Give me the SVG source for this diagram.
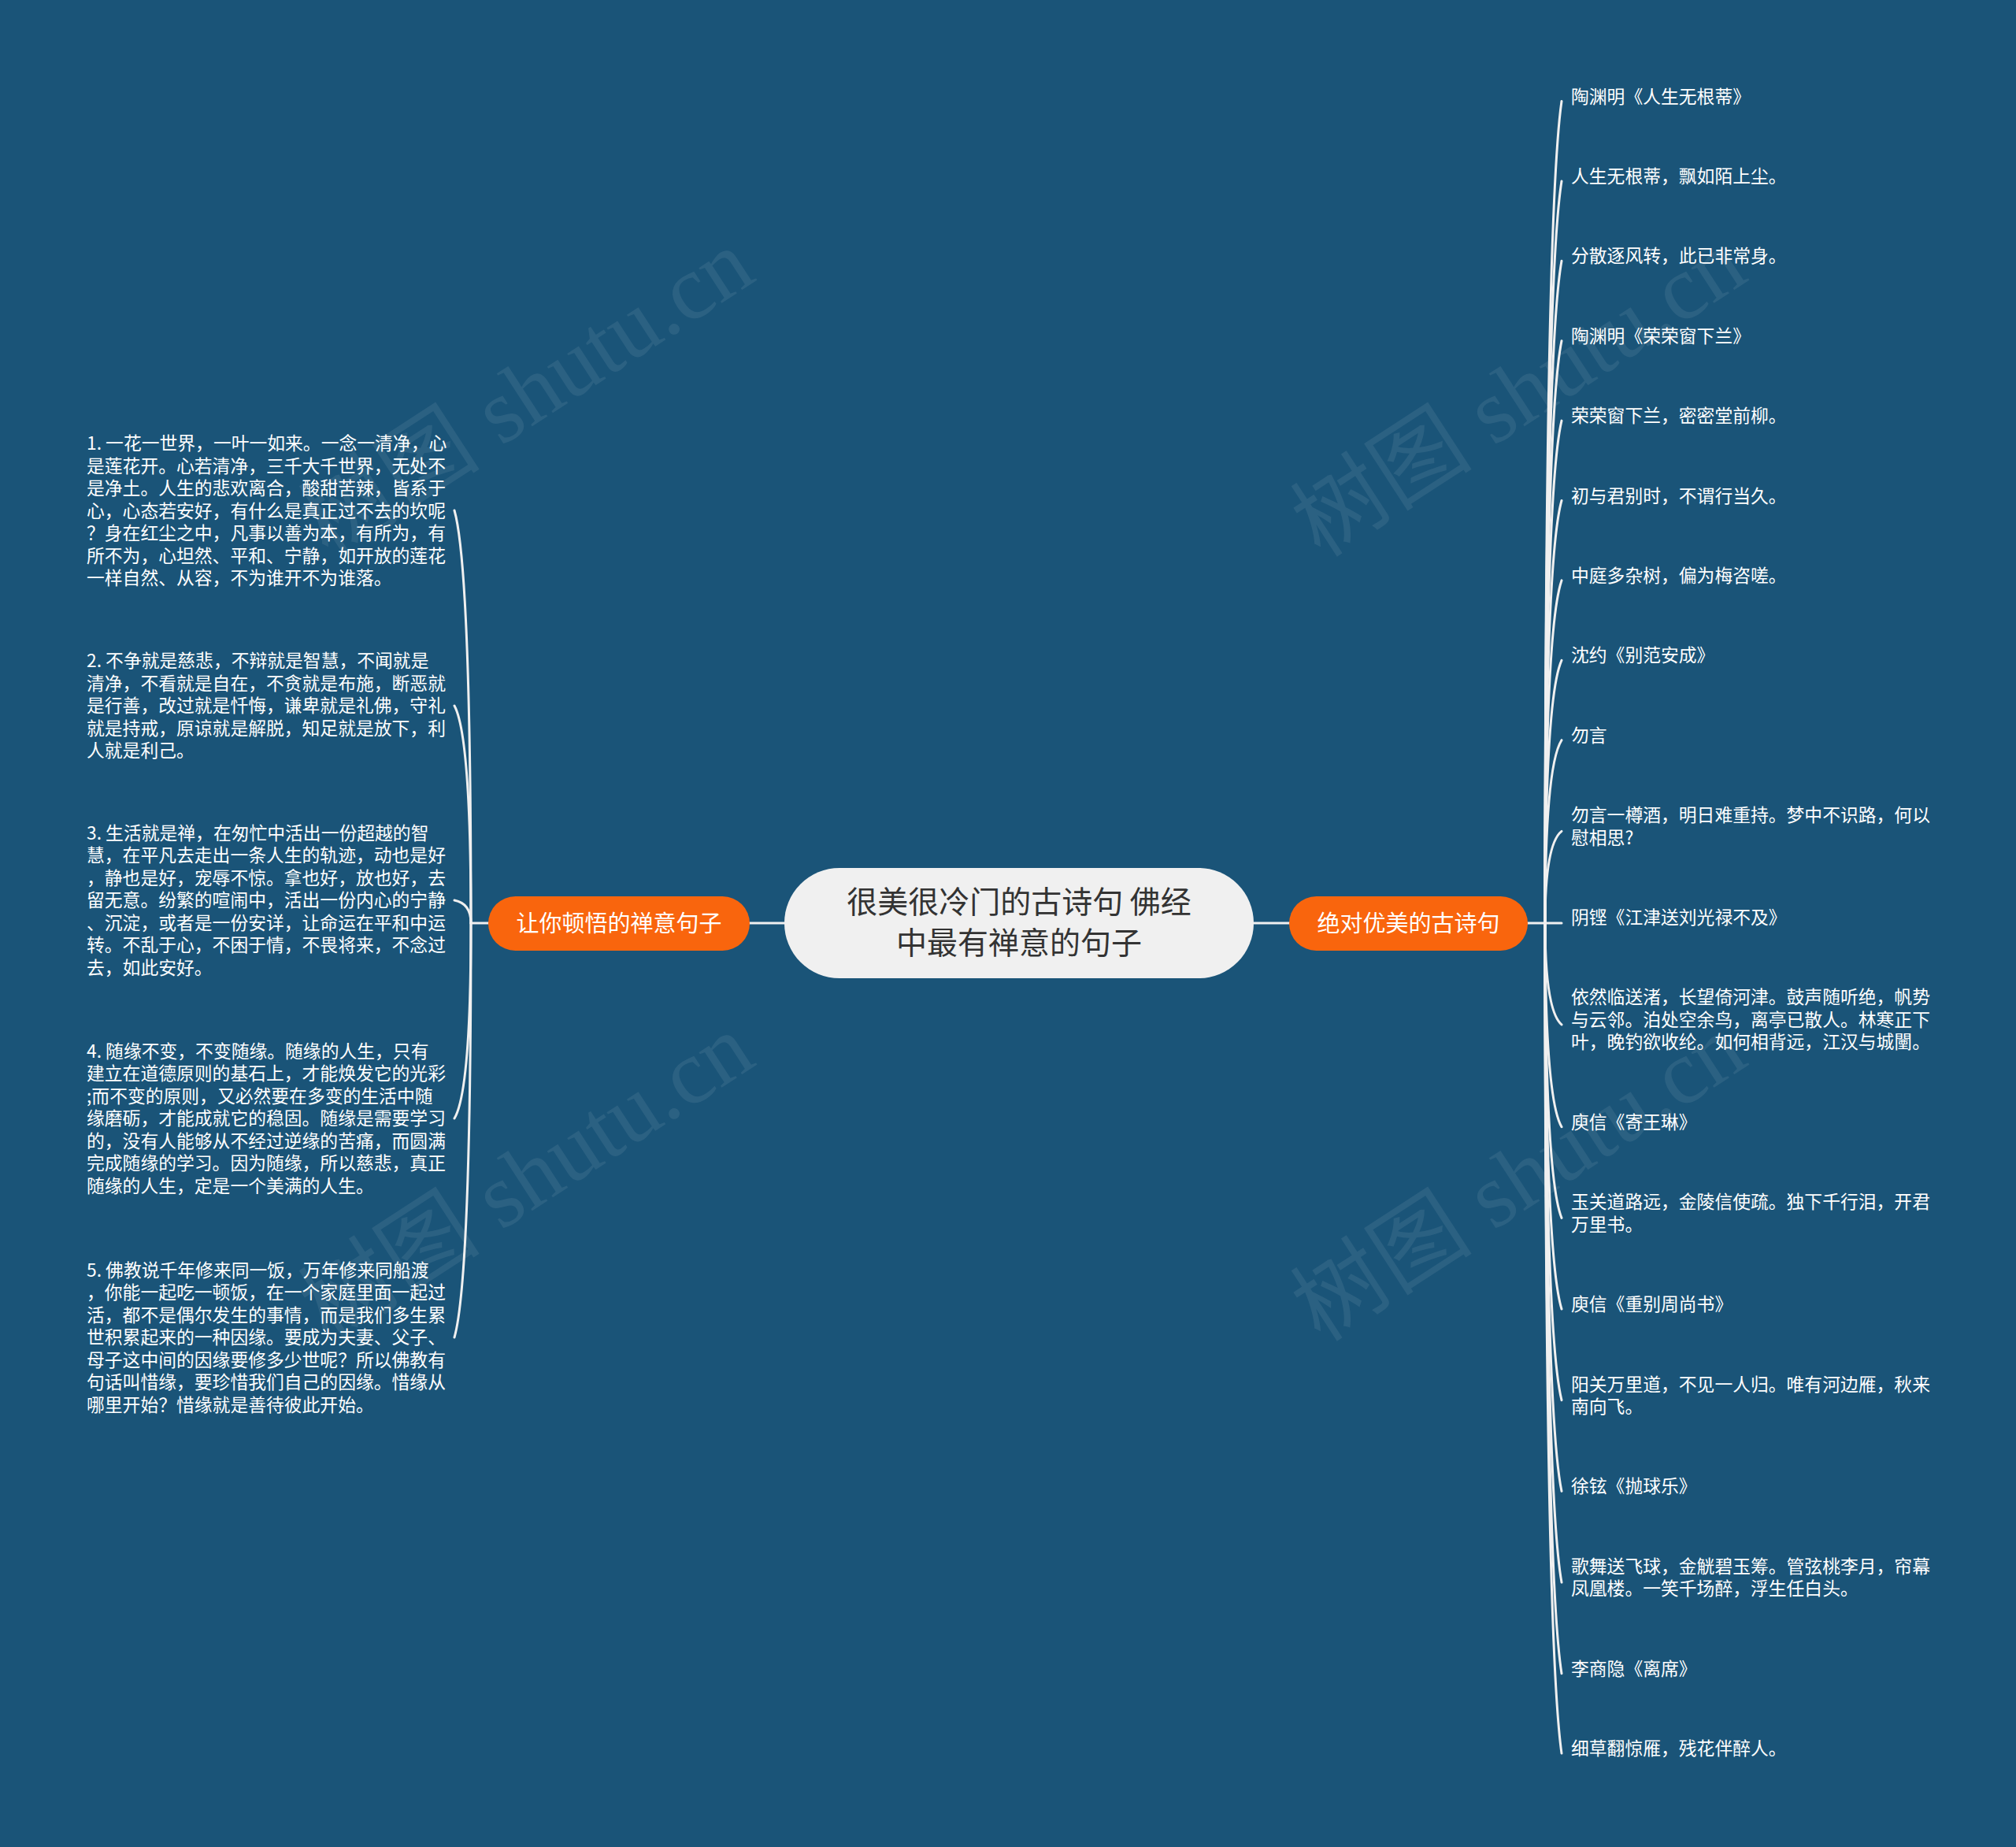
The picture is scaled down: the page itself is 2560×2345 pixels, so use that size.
<svg xmlns="http://www.w3.org/2000/svg" width="2560" height="2345" viewBox="0 0 2560 2345">
<style>
.t{font-family:"Noto Sans CJK SC","Noto Sans",sans-serif;font-size:22.8px;fill:#ffffff}
.lbl{font-family:"Noto Sans CJK SC","Noto Sans",sans-serif;font-size:29px;fill:#ffffff;text-anchor:middle}
.root{font-family:"Noto Sans CJK SC","Noto Sans",sans-serif;font-size:39px;fill:#333333;text-anchor:middle}
.wm{font-family:"Liberation Serif","Noto Sans CJK SC",serif;font-size:116px;fill:#ffffff;fill-opacity:0.08;text-anchor:middle}
#connectors path{fill:none;stroke:#f0f0f0;stroke-width:3;stroke-linecap:round}
.orange{fill:#f9650d}
</style>
<rect x="0" y="0" width="2560" height="2345" fill="#1a5478"/>
<g id="watermarks">
<text class="wm" transform="translate(690,532) rotate(-33)">树图 shutu.cn</text>
<text class="wm" transform="translate(690,1528) rotate(-33)">树图 shutu.cn</text>
<text class="wm" transform="translate(1950,532) rotate(-33)">树图 shutu.cn</text>
<text class="wm" transform="translate(1950,1528) rotate(-33)">树图 shutu.cn</text>
</g>
<g id="connectors">
<path d="M952 1172 L996 1172"/>
<path d="M1592 1172 L1637 1172"/>
<path d="M620 1172 L598 1172"/>
<path d="M598 1172 C598 962.4 595 710.9 577 648"/>
<path d="M598 1172 C598 1061.6 595 929.1 577 896"/>
<path d="M598 1172 C598 1160.4 595 1146.5 577 1143"/>
<path d="M598 1172 C598 1271.2 595 1390.2 577 1420"/>
<path d="M598 1172 C598 1382.4 595 1634.9 577 1698"/>
<path d="M1940 1172 L1962 1172"/>
<path d="M1962 1172 C1962 754.6 1965 253.7 1983 128.5"/>
<path d="M1962 1172 C1962 795.2 1965 343 1983 229.9"/>
<path d="M1962 1172 C1962 835.7 1965 432.2 1983 331.3"/>
<path d="M1962 1172 C1962 876.3 1965 521.4 1983 432.7"/>
<path d="M1962 1172 C1962 916.8 1965 610.6 1983 534.1"/>
<path d="M1962 1172 C1962 957.4 1965 699.9 1983 635.5"/>
<path d="M1962 1172 C1962 998 1965 789.1 1983 736.9"/>
<path d="M1962 1172 C1962 1038.5 1965 878.3 1983 838.3"/>
<path d="M1962 1172 C1962 1079.1 1965 967.6 1983 939.7"/>
<path d="M1962 1172 C1962 1125.4 1965 1069.4 1983 1055.4"/>
<path d="M1962 1172 L1983 1172"/>
<path d="M1962 1172 C1962 1223.6 1965 1285.4 1983 1300.9"/>
<path d="M1962 1172 C1962 1275.5 1965 1399.7 1983 1430.8"/>
<path d="M1962 1172 C1962 1321.8 1965 1501.5 1983 1546.4"/>
<path d="M1962 1172 C1962 1368 1965 1603.2 1983 1662"/>
<path d="M1962 1172 C1962 1414.3 1965 1705 1983 1777.7"/>
<path d="M1962 1172 C1962 1460.5 1965 1806.7 1983 1893.3"/>
<path d="M1962 1172 C1962 1506.8 1965 1908.6 1983 2009"/>
<path d="M1962 1172 C1962 1553.1 1965 2010.4 1983 2124.7"/>
<path d="M1962 1172 C1962 1593.6 1965 2099.6 1983 2226.1"/>
</g>
<g id="root">
<rect x="996" y="1102" width="596" height="140" rx="70" ry="70" fill="#f0f0f0"/>
<text class="root" x="1294" y="1158.5">很美很冷门的古诗句 佛经</text>
<text class="root" x="1294" y="1210.5">中最有禅意的句子</text>
</g>
<g id="branch-left">
<rect class="orange" x="620" y="1138" width="332" height="69" rx="34.5" ry="34.5"/>
<text class="lbl" x="786" y="1182.5">让你顿悟的禅意句子</text>
</g>
<g id="branch-right">
<rect class="orange" x="1637" y="1138" width="303" height="69" rx="34.5" ry="34.5"/>
<text class="lbl" x="1788.5" y="1182.5">绝对优美的古诗句</text>
</g>
<g id="left-1" class="t">
<text x="110" y="571">1. 一花一世界，一叶一如来。一念一清净，心</text>
<text x="110" y="599.5">是莲花开。心若清净，三千大千世界，无处不</text>
<text x="110" y="628">是净土。人生的悲欢离合，酸甜苦辣，皆系于</text>
<text x="110" y="656.5">心，心态若安好，有什么是真正过不去的坎呢</text>
<text x="110" y="685">？身在红尘之中，凡事以善为本，有所为，有</text>
<text x="110" y="713.5">所不为，心坦然、平和、宁静，如开放的莲花</text>
<text x="110" y="742">一样自然、从容，不为谁开不为谁落。</text>
</g>
<g id="left-2" class="t">
<text x="110" y="847">2. 不争就是慈悲，不辩就是智慧，不闻就是</text>
<text x="110" y="875.5">清净，不看就是自在，不贪就是布施，断恶就</text>
<text x="110" y="904">是行善，改过就是忏悔，谦卑就是礼佛，守礼</text>
<text x="110" y="932.5">就是持戒，原谅就是解脱，知足就是放下，利</text>
<text x="110" y="961">人就是利己。</text>
</g>
<g id="left-3" class="t">
<text x="110" y="1065.5">3. 生活就是禅，在匆忙中活出一份超越的智</text>
<text x="110" y="1094">慧，在平凡去走出一条人生的轨迹，动也是好</text>
<text x="110" y="1122.5">，静也是好，宠辱不惊。拿也好，放也好，去</text>
<text x="110" y="1151">留无意。纷繁的喧闹中，活出一份内心的宁静</text>
<text x="110" y="1179.5">、沉淀，或者是一份安详，让命运在平和中运</text>
<text x="110" y="1208">转。不乱于心，不困于情，不畏将来，不念过</text>
<text x="110" y="1236.5">去，如此安好。</text>
</g>
<g id="left-4" class="t">
<text x="110" y="1342.5">4. 随缘不变，不变随缘。随缘的人生，只有</text>
<text x="110" y="1371">建立在道德原则的基石上，才能焕发它的光彩</text>
<text x="110" y="1399.5">;而不变的原则，又必然要在多变的生活中随</text>
<text x="110" y="1428">缘磨砺，才能成就它的稳固。随缘是需要学习</text>
<text x="110" y="1456.5">的，没有人能够从不经过逆缘的苦痛，而圆满</text>
<text x="110" y="1485">完成随缘的学习。因为随缘，所以慈悲，真正</text>
<text x="110" y="1513.5">随缘的人生，定是一个美满的人生。</text>
</g>
<g id="left-5" class="t">
<text x="110" y="1620.5">5. 佛教说千年修来同一饭，万年修来同船渡</text>
<text x="110" y="1649">，你能一起吃一顿饭，在一个家庭里面一起过</text>
<text x="110" y="1677.5">活，都不是偶尔发生的事情，而是我们多生累</text>
<text x="110" y="1706">世积累起来的一种因缘。要成为夫妻、父子、</text>
<text x="110" y="1734.5">母子这中间的因缘要修多少世呢？所以佛教有</text>
<text x="110" y="1763">句话叫惜缘，要珍惜我们自己的因缘。惜缘从</text>
<text x="110" y="1791.5">哪里开始？惜缘就是善待彼此开始。</text>
</g>
<g id="right-1" class="t"><text x="1995" y="130.5">陶渊明《人生无根蒂》</text></g>
<g id="right-2" class="t"><text x="1995" y="231.9">人生无根蒂，飘如陌上尘。</text></g>
<g id="right-3" class="t"><text x="1995" y="333.3">分散逐风转，此已非常身。</text></g>
<g id="right-4" class="t"><text x="1995" y="434.7">陶渊明《荣荣窗下兰》</text></g>
<g id="right-5" class="t"><text x="1995" y="536.1">荣荣窗下兰，密密堂前柳。</text></g>
<g id="right-6" class="t"><text x="1995" y="637.5">初与君别时，不谓行当久。</text></g>
<g id="right-7" class="t"><text x="1995" y="738.9">中庭多杂树，偏为梅咨嗟。</text></g>
<g id="right-8" class="t"><text x="1995" y="840.3">沈约《别范安成》</text></g>
<g id="right-9" class="t"><text x="1995" y="941.7">勿言</text></g>
<g id="right-10" class="t">
<text x="1995" y="1043.2">勿言一樽酒，明日难重持。梦中不识路，何以</text>
<text x="1995" y="1071.7">慰相思?</text>
</g>
<g id="right-11" class="t"><text x="1995" y="1173">阴铿《江津送刘光禄不及》</text></g>
<g id="right-12" class="t">
<text x="1995" y="1274.4">依然临送渚，长望倚河津。鼓声随听绝，帆势</text>
<text x="1995" y="1302.9">与云邻。泊处空余鸟，离亭已散人。林寒正下</text>
<text x="1995" y="1331.4">叶，晚钓欲收纶。如何相背远，江汉与城闉。</text>
</g>
<g id="right-13" class="t"><text x="1995" y="1432.8">庾信《寄王琳》</text></g>
<g id="right-14" class="t">
<text x="1995" y="1534.2">玉关道路远，金陵信使疏。独下千行泪，开君</text>
<text x="1995" y="1562.7">万里书。</text>
</g>
<g id="right-15" class="t"><text x="1995" y="1664">庾信《重别周尚书》</text></g>
<g id="right-16" class="t">
<text x="1995" y="1765.5">阳关万里道，不见一人归。唯有河边雁，秋来</text>
<text x="1995" y="1794">南向飞。</text>
</g>
<g id="right-17" class="t"><text x="1995" y="1895.3">徐铉《抛球乐》</text></g>
<g id="right-18" class="t">
<text x="1995" y="1996.8">歌舞送飞球，金觥碧玉筹。管弦桃李月，帘幕</text>
<text x="1995" y="2025.3">凤凰楼。一笑千场醉，浮生任白头。</text>
</g>
<g id="right-19" class="t"><text x="1995" y="2126.7">李商隐《离席》</text></g>
<g id="right-20" class="t"><text x="1995" y="2228.1">细草翻惊雁，残花伴醉人。</text></g>
</svg>
